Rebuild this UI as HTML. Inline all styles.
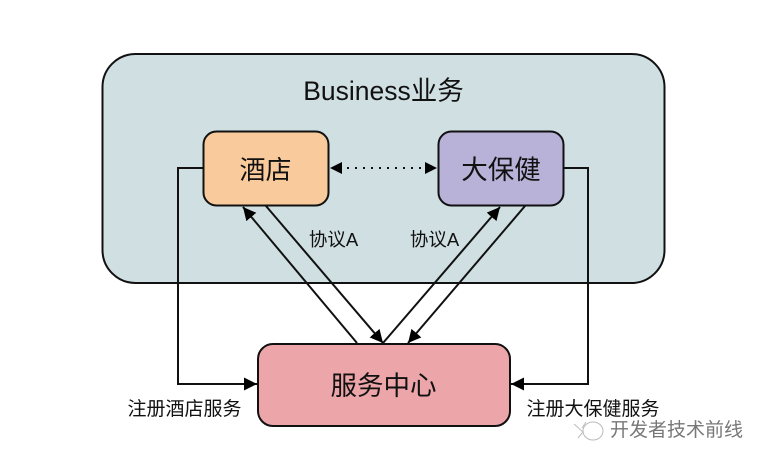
<!DOCTYPE html>
<html>
<head>
<meta charset="utf-8">
<style>
html,body{margin:0;padding:0;background:#fff}
svg{display:block;width:767px;height:462px}
text{font-family:"Liberation Sans","Noto Sans CJK SC",sans-serif;fill:#111;text-anchor:middle}
</style>
</head>
<body>
<svg width="767" height="462" viewBox="0 0 767 462" xmlns="http://www.w3.org/2000/svg">
<defs>
<marker id="a" markerUnits="userSpaceOnUse" markerWidth="14" markerHeight="14" refX="13" refY="6.500" orient="auto">
<path d="M0 0L13 6.500L0 13Z" fill="#000"/>
</marker>
</defs>
<rect x="102.500" y="54" width="562" height="229" rx="33" fill="#d0dfe2" stroke="#111" stroke-width="2"/>
<text x="383.500" y="100" font-size="26.500">Business业务</text>
<g fill="none" stroke="#111" stroke-width="2">
<path d="M203 168H178V384H257" marker-end="url(#a)"/>
<path d="M563 168H588V384H511" marker-end="url(#a)"/>
<path d="M357 343L243 207" marker-end="url(#a)"/>
<path d="M266 206L383 343" marker-end="url(#a)"/>
<path d="M383 343L500 207" marker-end="url(#a)"/>
<path d="M525 206L408 343" marker-end="url(#a)"/>
</g>
<path d="M347 168H426" fill="none" stroke="#111" stroke-width="2" stroke-dasharray="2 6"/>
<path d="M330 168L342 162V174Z M437 168L425 162V174Z" fill="#000"/>
<rect x="203.500" y="131.500" width="125" height="74" rx="13" fill="#f9cb9c" stroke="#111" stroke-width="2"/>
<rect x="438.500" y="131.500" width="125" height="74" rx="13" fill="#b8b1d8" stroke="#111" stroke-width="2"/>
<rect x="258" y="344" width="252" height="82" rx="15" fill="#eca5a8" stroke="#111" stroke-width="2"/>
<text x="265.500" y="179" font-size="26">酒店</text>
<text x="501" y="179" font-size="26.500">大保健</text>
<text x="383.500" y="395" font-size="26.500">服务中心</text>
<text x="333.500" y="246" font-size="18.500">协议A</text>
<text x="434.500" y="246" font-size="18.500">协议A</text>
<text x="184.500" y="415" font-size="19">注册酒店服务</text>
<text x="593" y="415" font-size="19">注册大保健服务</text>
<text x="676.500" y="436" font-size="19" style="fill:#777">开发者技术前线</text>
<g fill="none" stroke="#bbb" stroke-width="1">
<ellipse cx="593" cy="431" rx="10" ry="9"/>
<path d="M574 424L583 432L578 438M586 422L582 428"/>
</g>
</svg>
</body>
</html>
